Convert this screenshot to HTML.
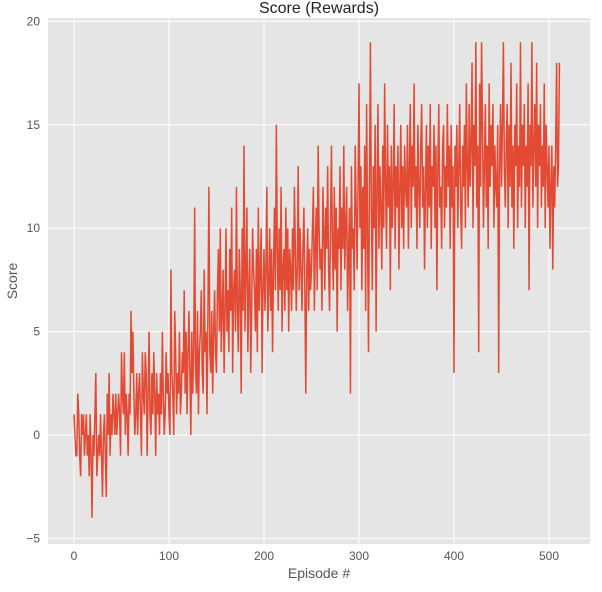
<!DOCTYPE html>
<html><head><meta charset="utf-8"><style>
body{margin:0;background:#fff;font-family:"Liberation Sans",sans-serif}
svg text{font-family:"Liberation Sans",sans-serif}
</style></head><body>
<svg id="chart" width="602" height="587">
<rect x="48" y="18" width="542" height="526" fill="#e5e5e5"/>
<g id="grid"></g><g id="ticks"></g>
<polyline id="line" fill="none" stroke="#e24a33" stroke-width="1.5"/>
<text x="319" y="13" text-anchor="middle" font-size="16" fill="#222">Score (Rewards)</text>
<text x="319" y="578" text-anchor="middle" font-size="14" fill="#555">Episode #</text>
<text transform="translate(17,281) rotate(-90)" text-anchor="middle" font-size="14" fill="#555">Score</text>
</svg>
<script>
const scores=[1,0,-1,-1,2,1,-1,-2,1,0,1,-1,0,1,-1,0,-2,1,-1,-4,0,-1,1,3,-2,-1,0,-1,1,-1,
-3,0,1,-1,-3,2,0,3,-1,1,0,2,1,0,2,0,1,2,1,-1,
4,2,1,4,0,2,1,-1,2,1,6,3,5,2,0,1,3,0,2,3,1,-1,4,2,1,4,3,-1,2,5,1,0,3,1,4,2,-1,3,1,2,0,3,1,5,2,0,1,4,2,3,
1,0,8,3,2,0,6,4,1,3,2,5,1,2,4,3,7,2,5,1,4,6,3,0,5,2,4,11,3,2,6,1,4,5,7,3,2,8,4,5,1,6,12,4,3,6,2,5,7,4,
3,7,9,5,10,4,6,8,3,6,10,5,7,4,9,6,11,3,7,8,5,12,6,4,9,7,2,10,6,14,5,8,11,4,7,9,3,6,10,8,7,5,9,4,11,6,8,10,3,7,
9,6,8,12,5,7,10,6,9,4,8,11,7,15,9,6,10,7,12,5,8,9,6,11,7,10,5,9,8,6,10,7,12,9,6,8,13,7,10,8,6,9,11,7,2,8,10,6,9,7,
8,10,12,6,9,11,7,14,10,8,9,6,12,10,7,11,9,13,8,6,10,14,9,7,12,8,11,5,10,9,13,7,11,9,14,8,10,12,6,9,11,2,13,9,10,7,14,11,8,12,
17,10,13,7,12,9,14,6,16,10,4,12,19,11,7,13,10,15,5,12,16,9,13,11,8,14,10,17,12,9,15,11,13,7,14,10,12,16,9,13,11,14,8,12,15,10,13,9,14,12,
11,15,9,13,16,10,14,12,17,11,13,9,15,12,10,14,16,11,13,8,12,15,10,14,11,16,9,13,12,15,10,14,7,13,16,11,12,9,14,15,10,13,11,16,12,14,9,15,11,13,
3,14,12,15,10,13,16,11,9,14,12,15,10,17,13,11,16,12,14,18,10,15,13,19,11,14,4,17,12,19,15,10,13,16,11,14,9,17,12,15,13,16,10,14,12,11,15,3,13,16,
12,15,19,13,11,14,16,10,15,12,18,11,14,9,15,13,17,10,14,12,19,11,15,13,16,10,14,12,17,7,15,13,19,11,14,16,12,18,10,15,13,16,11,14,12,17,10,15,13,11,14,9,12,14,8,13,11,14,18,12,13,18];
const xTicks=[0,100,200,300,400,500];
const yTicks=[-5,0,5,10,15,20];
const xs=e=>74+e*0.95;
const ys=v=>435-v*20.68;
const NS="http://www.w3.org/2000/svg";
const grid=document.getElementById('grid'),ticks=document.getElementById('ticks');
xTicks.forEach(t=>{
 const l=document.createElementNS(NS,'line');
 
 
 l.setAttribute('x1',xs(t));l.setAttribute('x2',xs(t));l.setAttribute('y1',18);l.setAttribute('y2',544);
 l.setAttribute('stroke','#fff');l.setAttribute('stroke-width','1');grid.appendChild(l);
 const tx=document.createElementNS(NS,'text');
 
 
 tx.setAttribute('x',xs(t));tx.setAttribute('y',560);tx.setAttribute('text-anchor','middle');
 tx.setAttribute('font-size','12');tx.setAttribute('fill','#555');tx.textContent=t;ticks.appendChild(tx);
});
yTicks.forEach(t=>{
 const l=document.createElementNS(NS,'line');
 
 
 l.setAttribute('x1',48);l.setAttribute('x2',590);l.setAttribute('y1',ys(t));l.setAttribute('y2',ys(t));
 l.setAttribute('stroke','#fff');l.setAttribute('stroke-width','1');grid.appendChild(l);
 const tx=document.createElementNS(NS,'text');
 
 
 tx.setAttribute('x',40);tx.setAttribute('y',ys(t)+4);tx.setAttribute('text-anchor','end');
 tx.setAttribute('font-size','12');tx.setAttribute('fill','#555');tx.textContent=(t<0?'\u2212'+(-t):t);ticks.appendChild(tx);
});
document.getElementById('line').setAttribute('points',scores.map((v,i)=>xs(i).toFixed(2)+','+ys(v).toFixed(2)).join(' '));
</script>
</body></html>
